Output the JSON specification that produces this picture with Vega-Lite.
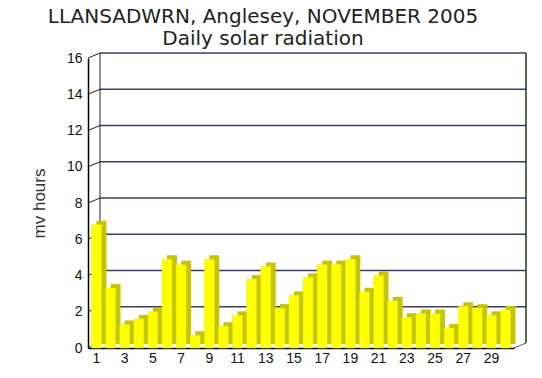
{
  "$schema": "https://vega.github.io/schema/vega-lite/v6.json",
  "width": 426,
  "height": 290,
  "autosize": "none",
  "padding": {"left": 88, "top": 58, "right": 28, "bottom": 30},
  "background": "white",
  "config": {
    "view": {"stroke": null},
    "axis": {"labelOverlap": false},
    "axisY": {
      "labelOverlap": false,
      "labelBound": false,
      "tickCount": 8,
      "labelFont": "Liberation Sans",
      "labelFontSize": 14,
      "labelColor": "#111111",
      "labelPadding": 6,
      "ticks": false,
      "grid": false,
      "domainColor": "#000000",
      "domainWidth": 1.5,
      "titleFont": "Liberation Sans",
      "titleFontSize": 17,
      "titleFontWeight": "normal",
      "titleColor": "#333333",
      "titlePadding": 18
    }
  },
  "title": {
    "text": ["LLANSADWRN, Anglesey, NOVEMBER 2005", "Daily solar radiation"],
    "font": "DejaVu Sans",
    "fontSize": 20,
    "fontWeight": "normal",
    "color": "#222222",
    "lineHeight": 22,
    "anchor": "middle",
    "dx": -38,
    "offset": 2
  },
  "datasets": {
    "solar": [
      {"day": 1, "value": 6.8}, {"day": 2, "value": 3.3}, {"day": 3, "value": 1.3},
      {"day": 4, "value": 1.6}, {"day": 5, "value": 2.0}, {"day": 6, "value": 4.9},
      {"day": 7, "value": 4.6}, {"day": 8, "value": 0.7}, {"day": 9, "value": 4.9},
      {"day": 10, "value": 1.2}, {"day": 11, "value": 1.8}, {"day": 12, "value": 3.8},
      {"day": 13, "value": 4.5}, {"day": 14, "value": 2.2}, {"day": 15, "value": 2.9},
      {"day": 16, "value": 3.9}, {"day": 17, "value": 4.6}, {"day": 18, "value": 4.6},
      {"day": 19, "value": 4.9}, {"day": 20, "value": 3.1}, {"day": 21, "value": 4.0},
      {"day": 22, "value": 2.6}, {"day": 23, "value": 1.7}, {"day": 24, "value": 1.9},
      {"day": 25, "value": 1.9}, {"day": 26, "value": 1.1}, {"day": 27, "value": 2.3},
      {"day": 28, "value": 2.2}, {"day": 29, "value": 1.8}, {"day": 30, "value": 2.1}
    ],
    "grid": [
      {"v": 0}, {"v": 2}, {"v": 4}, {"v": 6}, {"v": 8},
      {"v": 10}, {"v": 12}, {"v": 14}, {"v": 16}
    ]
  },
  "resolve": {"scale": {"x": "independent"}},
  "layer": [
    {
      "data": {"name": "grid"},
      "transform": [{"filter": "datum.v > 0"}],
      "mark": {"type": "rule", "color": "#3c3c5c", "strokeWidth": 1.5, "xOffset": 12, "x2Offset": 12, "yOffset": -5, "y2Offset": -5},
      "encoding": {
        "x": {"datum": 0, "type": "quantitative", "scale": {"domain": [0, 1]}, "axis": null},
        "x2": {"datum": 1},
        "y": {
          "field": "v", "type": "quantitative",
          "scale": {"domain": [0, 16], "nice": false},
          "title": "mv hours"
        },
        "y2": {"field": "v"}
      }
    },
    {
      "data": {"name": "grid"},
      "mark": {"type": "rule", "color": "#222222", "strokeWidth": 1, "x2Offset": 12, "y2Offset": -5},
      "encoding": {
        "x": {"datum": 0, "type": "quantitative", "scale": {"domain": [0, 1]}, "axis": null},
        "x2": {"datum": 0},
        "y": {"field": "v", "type": "quantitative", "title": "mv hours"},
        "y2": {"field": "v"}
      }
    },
    {
      "data": {"values": [{"a": 0, "b": 16}]},
      "mark": {"type": "rule", "color": "#222222", "strokeWidth": 1, "xOffset": 12, "x2Offset": 12, "yOffset": -5, "y2Offset": -5},
      "encoding": {
        "x": {"datum": 0, "type": "quantitative", "scale": {"domain": [0, 1]}, "axis": null},
        "y": {"field": "a", "type": "quantitative", "title": "mv hours"},
        "y2": {"field": "b"}
      }
    },
    {
      "data": {"values": [{"a": 0, "b": 16}]},
      "mark": {"type": "rule", "color": "#1a3a1a", "strokeWidth": 1.5, "xOffset": 12, "x2Offset": 12, "yOffset": -5, "y2Offset": -5},
      "encoding": {
        "x": {"datum": 1, "type": "quantitative", "scale": {"domain": [0, 1]}, "axis": null},
        "y": {"field": "a", "type": "quantitative", "title": "mv hours"},
        "y2": {"field": "b"}
      }
    },
    {
      "data": {"values": [{"a": 0}]},
      "mark": {"type": "rule", "color": "#555555", "strokeWidth": 1, "x2Offset": 12, "y2Offset": -5},
      "encoding": {
        "x": {"datum": 1, "type": "quantitative", "scale": {"domain": [0, 1]}, "axis": null},
        "x2": {"datum": 1},
        "y": {"field": "a", "type": "quantitative", "title": "mv hours"},
        "y2": {"field": "a"}
      }
    },
    {
      "data": {"name": "solar"},
      "mark": {"type": "bar", "color": "#c4c400", "xOffset": 5, "x2Offset": 5, "yOffset": -4, "y2Offset": -4},
      "encoding": {
        "x": {"field": "day", "type": "ordinal", "scale": {"paddingInner": 0.3, "paddingOuter": 0.25}, "axis": null},
        "y": {"field": "value", "type": "quantitative", "title": "mv hours"}
      }
    },
    {
      "data": {"name": "solar"},
      "mark": {"type": "bar", "color": "#ffff00", "stroke": "#e8e800", "strokeWidth": 0.5},
      "encoding": {
        "x": {
          "field": "day", "type": "ordinal",
          "scale": {"paddingInner": 0.3, "paddingOuter": 0.25},
          "axis": {
            "title": null,
            "values": [1, 3, 5, 7, 9, 11, 13, 15, 17, 19, 21, 23, 25, 27, 29],
            "labelAngle": 0,
            "labelFont": "Liberation Sans",
            "labelFontSize": 14,
            "labelColor": "#111111",
            "labelPadding": 3,
            "labelOverlap": false,
            "ticks": false,
            "domainColor": "#000000",
            "domainWidth": 1.5
          }
        },
        "y": {"field": "value", "type": "quantitative", "title": "mv hours"}
      }
    }
  ]
}
